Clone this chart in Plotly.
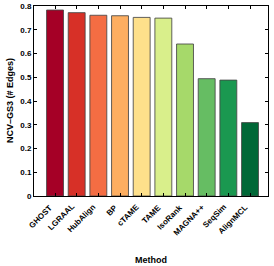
import plotly.graph_objects as go

methods = ["GHOST", "LGRAAL", "HubAlign", "BP", "cTAME", "TAME", "IsoRank", "MAGNA++", "SeqSim", "AlignMCL"]
values = [0.783, 0.772, 0.761, 0.759, 0.752, 0.749, 0.640, 0.494, 0.488, 0.309]
colors = ["#a50026", "#d73027", "#f46d43", "#fdae61", "#fee08b", "#d9ef8b", "#a6d96a", "#66bd63", "#1a9850", "#006837"]
yticks = [0, 0.1, 0.2, 0.3, 0.4, 0.5, 0.6, 0.7, 0.8]
yticklabels = ["0", "0.1", "0.2", "0.3", "0.4", "0.5", "0.6", "0.7", "0.8"]

fam = "Liberation Sans, Arial, sans-serif"
xs = list(range(len(methods)))
fig = go.Figure(go.Bar(
    x=xs, y=values, width=0.78,
    marker=dict(color=colors, line=dict(color="rgba(70,70,70,0.85)", width=1)),
))
font = dict(family=fam, size=8, color="black", weight="bold")
annotations = [
    dict(text=m, x=i, xref="x", y=0, yref="paper", yshift=-4, xshift=2,
         xanchor="right", yanchor="top", textangle=-45, showarrow=False, font=font)
    for i, m in zip(xs, methods)
]
annotations += [
    dict(text="Method", xref="paper", yref="paper", x=0.5, y=0, yshift=-57,
         xanchor="center", yanchor="top", showarrow=False,
         font=dict(family=fam, size=9, color="black", weight="bold")),
    dict(text="NCV–GS3 (# Edges)", xref="paper", yref="paper", x=0, xshift=-31, y=0.5,
         xanchor="left", yanchor="middle", textangle=-90, showarrow=False,
         font=dict(family=fam, size=9, color="black", weight="bold")),
]
fig.update_layout(
    width=274, height=266, margin=dict(l=34, r=6, t=6, b=70),
    paper_bgcolor="white", plot_bgcolor="white", showlegend=False,
    font=font, annotations=annotations,
)
fig.update_xaxes(
    range=[-0.97, 9.83], tickmode="array", tickvals=xs, showticklabels=False,
    ticks="inside", ticklen=3, tickcolor="black", mirror="ticks",
    showline=True, linecolor="black", linewidth=1, showgrid=False, zeroline=False,
    automargin=False,
)
fig.update_yaxes(
    range=[0, 0.8], tickmode="array", tickvals=yticks, ticktext=yticklabels,
    ticks="inside", ticklen=3, tickcolor="black", mirror="ticks",
    showline=True, linecolor="black", linewidth=1, showgrid=False, zeroline=False,
    tickfont=font, automargin=False,
)
fig.write_html("out.html", config={"displayModeBar": False},
               post_script="document.body.style.margin='0';document.body.style.overflow='hidden';")
